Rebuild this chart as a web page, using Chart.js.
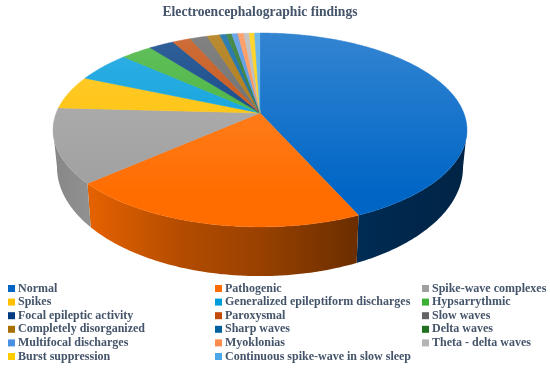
<!DOCTYPE html>
<html>
<head>
<meta charset="utf-8">
<title>Electroencephalographic findings</title>
<style>
  html, body { margin: 0; padding: 0; background: #fff; }
  canvas { display: block; }
</style>
<script src="https://cdn.jsdelivr.net/npm/chart.js@4"></script>
</head>
<body>
<canvas id="myChart" width="550" height="368"></canvas>
<script>
// data (share of the pie, %)
const categories = [
    "Normal", "Pathogenic", "Spike-wave complexes",
    "Spikes", "Generalized epileptiform discharges", "Hypsarrythmic",
    "Focal epileptic activity", "Paroxysmal", "Slow waves",
    "Completely disorganized", "Sharp waves", "Delta waves",
    "Multifocal discharges", "Myoklonias", "Theta - delta waves",
    "Burst suppression", "Continuous spike-wave in slow sleep"
];
const values = [43.3, 20.1, 12.4, 5.6, 5.1, 2.9, 2.3, 1.7, 1.6, 1.2, 0.6, 0.5, 0.55, 0.55, 0.5, 0.5, 0.5];
const colors = [
    "#0066c6", "#ff6d00", "#a0a0a0",
    "#ffc000", "#009ddc", "#3cb034",
    "#003a80", "#c24a08", "#636363",
    "#a87000", "#00609e", "#1f701f",
    "#4a90e2", "#ff8c4a", "#b5b5b5",
    "#ffcc00", "#4aa8e8"
];

const textColor = "#44546a";
const fontFamily = "'Liberation Serif'";

// legend grid
const legendCols = [8, 215, 422];
const legendTop = 288.5;
const legendStep = 13.6;

// perspective of the tilted pie, in units of the pie radius the library computes
const k = 0.175;
const topFace = { sx: 2.5475, sy: 1.175, dy: 0 };
const bottomFace = { sx: 2.499, sy: 1.321, dy: 0.4375 };
// the side wall only shows between these angles
const wallFrom = 10 * Math.PI / 180;
const wallTo = 170 * Math.PI / 180;
// how dark the wall gets going left to right
const wallShade = [[0.1, 0.85], [0.16, 0.9], [0.33, 0.7], [0.47, 0.6], [0.65, 0.42], [0.84, 0.35]];

function project(el, face, a) {
    const u = Math.cos(a), v = Math.sin(a);
    const w = 1 - k * v;
    return [
        el.x + el.outerRadius * face.sx * u / w,
        el.y + el.outerRadius * (face.dy + face.sy * v / w)
    ];
}

function shade(hex, f) {
    const n = parseInt(hex.slice(1), 16);
    const r = Math.round((n >> 16) * f);
    const g = Math.round(((n >> 8) & 255) * f);
    const b = Math.round((n & 255) * f);
    return "rgb(" + r + "," + g + "," + b + ")";
}

function rim(ctx, el, face, a0, a1) {
    const steps = Math.max(2, Math.ceil(Math.abs(a1 - a0) / 0.01));
    for (let s = 0; s <= steps; s++) {
        const p = project(el, face, a0 + (a1 - a0) * s / steps);
        ctx.lineTo(p[0], p[1]);
    }
}

// draw each slice the library laid out as a tilted 3d slice
Chart.ArcElement.prototype.draw = function (ctx) {
    const color = this.options.backgroundColor;
    const r = this.outerRadius;
    ctx.save();

    // side wall
    const a0 = Math.max(this.startAngle, wallFrom);
    const a1 = Math.min(this.endAngle, wallTo);
    if (a1 > a0) {
        const g = ctx.createLinearGradient(0, 0, ctx.canvas.width, 0);
        wallShade.forEach(function (s) { g.addColorStop(s[0], shade(color, s[1])); });
        ctx.fillStyle = g;
        ctx.beginPath();
        rim(ctx, this, topFace, a0, a1);
        rim(ctx, this, bottomFace, a1, a0);
        ctx.closePath();
        ctx.fill();
    }

    // top face
    ctx.beginPath();
    ctx.moveTo(this.x, this.y);
    rim(ctx, this, topFace, this.startAngle, this.endAngle);
    ctx.closePath();
    ctx.fillStyle = color;
    ctx.strokeStyle = color;
    ctx.lineWidth = 0.4;
    ctx.fill();
    ctx.stroke();

    // lighter towards the back
    const light = ctx.createLinearGradient(0, this.y - r, 0, this.y + r);
    light.addColorStop(0, "rgba(255,255,255,0.2)");
    light.addColorStop(1, "rgba(255,255,255,0)");
    ctx.fillStyle = light;
    ctx.fill();
    ctx.restore();
};

// legend in a three column grid
const gridLegend = {
    id: "gridLegend",
    afterDraw: function (chart) {
        const ctx = chart.ctx;
        ctx.save();
        ctx.font = "bold 12px " + fontFamily;
        ctx.textBaseline = "middle";
        categories.forEach(function (name, i) {
            const col = legendCols[i % 3];
            const y = legendTop + legendStep * Math.floor(i / 3);
            ctx.fillStyle = colors[i];
            ctx.fillRect(col, y - 3.5, 7, 7);
            ctx.fillStyle = textColor;
            ctx.fillText(name, col + 10, y);
        });
        ctx.restore();
    }
};

const data = {
    labels: categories,
    datasets: [{
        data: values,
        backgroundColor: colors,
        borderWidth: 0
    }]
};

const config = {
    type: "pie",
    data: data,
    options: {
        responsive: false,
        animation: false,
        layout: { padding: { left: 0, right: 30, top: 0, bottom: 175 } },
        plugins: {
            legend: { display: false },
            tooltip: { enabled: false },
            title: {
                display: true,
                text: "Electroencephalographic findings",
                color: textColor,
                font: { family: fontFamily, size: 13.6, weight: "bold", lineHeight: 1.2 },
                padding: { top: 4, bottom: 12.7 }
            }
        }
    },
    plugins: [gridLegend]
};

const myChart = new Chart(document.getElementById("myChart"), config);
</script>
</body>
</html>
